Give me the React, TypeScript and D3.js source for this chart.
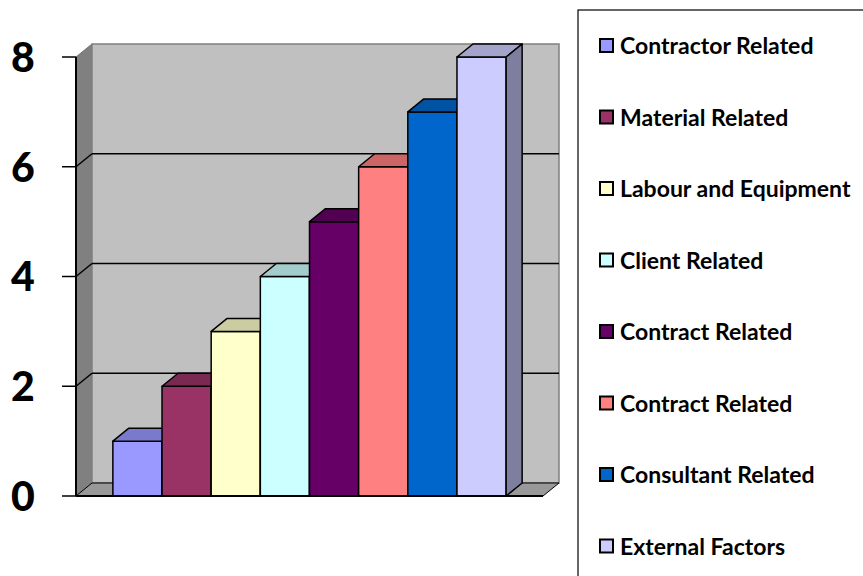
import React from 'react';
import * as d3 from 'd3';

const series = [
  'Contractor Related',
  'Material Related',
  'Labour and Equipment',
  'Client Related',
  'Contract Related',
  'Contract Related ',
  'Consultant Related',
  'External Factors',
];
const values = [1, 2, 3, 4, 5, 6, 7, 8];
const colors = ['#9999FF', '#993366', '#FFFFCC', '#CCFFFF', '#660066', '#FF8080', '#0066CC', '#CCCCFF'];
const yTicks = [0, 2, 4, 6, 8];

const W = 863;
const H = 576;
const PLOT = { left: 76, right: 543, top: 57, bottom: 496 };
const DX = 16;
const DY = -13;
const FONT = 'Lato, "Open Sans", sans-serif';

const shade = (c: string, k: number) => {
  const rgb = d3.rgb(c);
  return d3.rgb(rgb.r * k, rgb.g * k, rgb.b * k).formatHex();
};

const pts = (p: [number, number][]) => p.map(d => d.join(',')).join(' ');

const App: React.FC = () => {
  const y = d3.scaleLinear().domain([0, 8]).range([PLOT.bottom, PLOT.top]);
  const x = d3.scaleBand<string>().domain(series).range([PLOT.left, PLOT.right]).paddingInner(0).paddingOuter(0.75);
  const bw = x.bandwidth();
  const y0 = y(0);
  const yMax = y(8);

  return (
    <svg width={W} height={H} style={{ position: 'absolute', left: 0, top: 0, background: '#fff' }}>
      {/* side wall */}
      <polygon
        points={pts([[PLOT.left, yMax], [PLOT.left + DX, yMax + DY], [PLOT.left + DX, y0 + DY], [PLOT.left, y0]])}
        fill="#808080" stroke="#707070" strokeWidth={1}
      />
      {/* back wall */}
      <rect x={PLOT.left + DX} y={yMax + DY} width={PLOT.right - PLOT.left} height={y0 - yMax}
        fill="#C0C0C0" stroke="#808080" strokeWidth={1.5} />
      {/* floor */}
      <polygon
        points={pts([[PLOT.left, y0], [PLOT.right, y0], [PLOT.right + DX, y0 + DY], [PLOT.left + DX, y0 + DY]])}
        fill="#999999" stroke="#000" strokeWidth={1}
      />
      {/* gridlines */}
      {yTicks.filter(t => t > 0 && t < 8).map(t => (
        <g key={t}>
          <line x1={PLOT.left + DX} x2={PLOT.right + DX} y1={y(t) + DY} y2={y(t) + DY} stroke="#000" strokeWidth={1.5} />
          <line x1={PLOT.left} x2={PLOT.left + DX} y1={y(t)} y2={y(t) + DY} stroke="#000" strokeWidth={1.5} />
        </g>
      ))}
      {/* bars */}
      {series.map((s, i) => {
        const x0 = x(s)!;
        const x1 = x0 + bw;
        const yt = y(values[i]);
        return (
          <g key={s + i} stroke="#000" strokeWidth={1.5} strokeLinejoin="round">
            <rect x={x0} y={yt} width={bw} height={y0 - yt} fill={colors[i]} />
            <polygon points={pts([[x0, yt], [x0 + DX, yt + DY], [x1 + DX, yt + DY], [x1, yt]])} fill={shade(colors[i], 0.8)} />
            <polygon points={pts([[x1, yt], [x1 + DX, yt + DY], [x1 + DX, y0 + DY], [x1, y0]])} fill={shade(colors[i], 0.62)} />
          </g>
        );
      })}
      {/* axis */}
      <line x1={PLOT.left} x2={PLOT.left} y1={yMax} y2={y0} stroke="#000" strokeWidth={2} />
      <line x1={PLOT.left} x2={PLOT.right} y1={y0} y2={y0} stroke="#000" strokeWidth={2} />
      {yTicks.map(t => (
        <g key={t}>
          <line x1={62} x2={PLOT.left} y1={y(t)} y2={y(t)} stroke="#000" strokeWidth={1.5} />
          <text x={23} y={y(t)} dy="0.36em" textAnchor="middle" fontFamily={FONT} fontWeight={900} fontSize={41} fill="#000">
            {t}
          </text>
        </g>
      ))}
      {/* legend */}
      <rect x={578} y={10} width={W - 578 + 5} height={H} fill="#fff" stroke="#000" strokeWidth={1.2} />
      {series.map((s, i) => {
        const cy = 46 + i * 71.5;
        return (
          <g key={'l' + i}>
            <rect x={600} y={cy - 7} width={13} height={13} fill={colors[i]} stroke="#000" strokeWidth={2} />
            <text x={620} y={cy} dy="0.36em" fontFamily={FONT} fontWeight="bold" fontSize={23} fill="#000">
              {s.trim()}
            </text>
          </g>
        );
      })}
    </svg>
  );
};

export default App;
